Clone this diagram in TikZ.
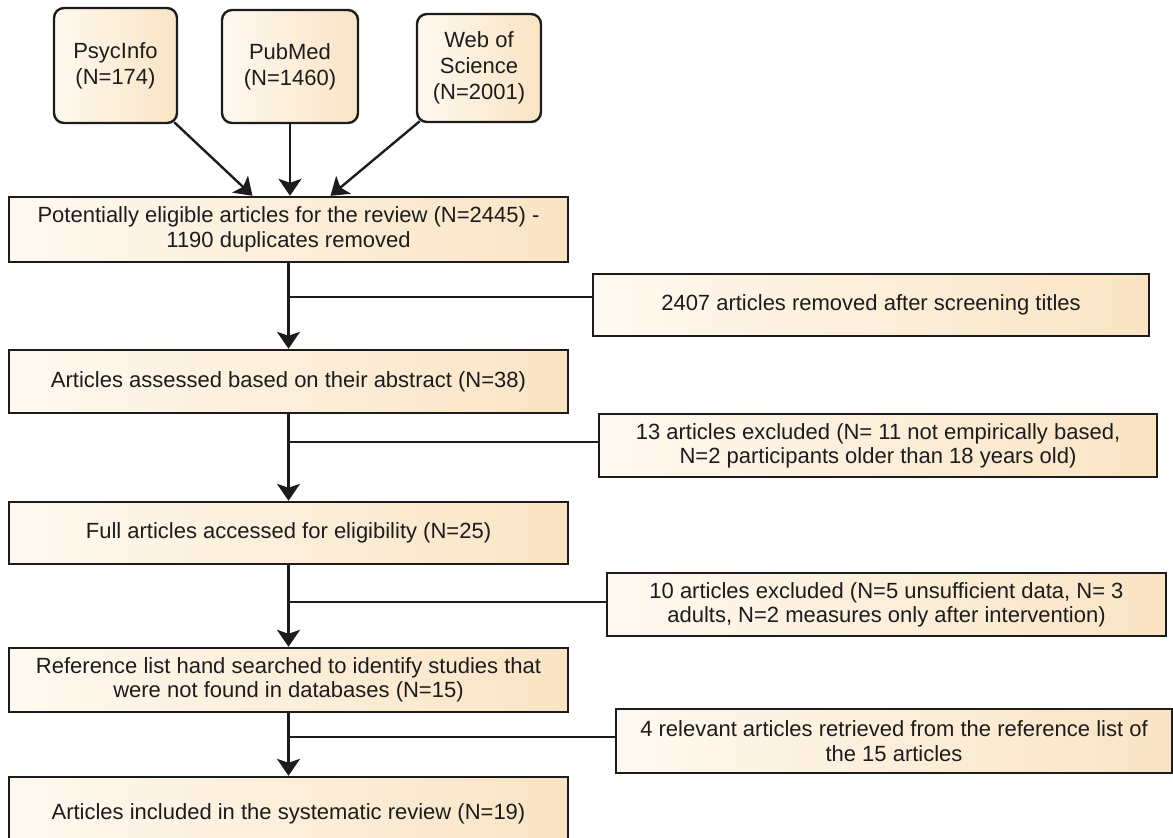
\documentclass[tikz,border=0pt]{standalone}
\usepackage{fontspec}
\setmainfont{Liberation Sans}
\usetikzlibrary{arrows.meta}

\definecolor{boxleft}{RGB}{254,249,240}
\definecolor{boxright}{RGB}{250,228,196}
\definecolor{edge}{RGB}{28,28,28}

\begin{document}
\begin{tikzpicture}[x=0.5pt, y=-0.5pt,
	every node/.style={font=\fontsize{11}{12.2}\selectfont, text=edge},
	box/.style={draw=edge, line width=1.2pt, left color=boxleft, right color=boxright, align=center, inner sep=0pt},
	source/.style={box, rounded corners=5pt, font=\fontsize{11}{13}\selectfont},
	link/.style={draw=edge, line width=1.2pt},
	arrow/.style={link, -{Stealth[length=8.5pt,width=11.5pt,inset=2pt]}}]

	% Page frame
	\clip (0,0) rectangle (1173,837);

	% Draw databases
	\node (psyc) at (115.5,65.5) [source, minimum width=61.5pt, minimum height=57.5pt] {PsycInfo\\(N=174)};
	\node (pubmed) at (290,66.5) [source, minimum width=68pt, minimum height=56.5pt] {PubMed\\(N=1460)};
	\node (wos) at (479,68) [source, minimum width=62pt, minimum height=54pt] {Web of\\Science\\(N=2001)};

	% Main column
	\node (elig) at (288.5,229.5) [box, minimum width=279.5pt, minimum height=32.5pt] {Potentially eligible articles for the review (N=2445) -\\1190 duplicates removed};
	\node (abstract) at (288.5,381.5) [box, minimum width=279.5pt, minimum height=31.5pt] {Articles assessed based on their abstract (N=38)};
	\node (full) at (288.5,533) [box, minimum width=279.5pt, minimum height=31pt] {Full articles accessed for eligibility (N=25)};
	\node (hand) at (288.5,680) [box, minimum width=279.5pt, minimum height=32pt] {Reference list hand searched to identify studies that\\were not found in databases (N=15)};
	\node (incl) at (288.5,813.5) [box, minimum width=279.5pt, minimum height=36.5pt] {Articles included in the systematic review (N=19)};

	% Side boxes
	\node (titles) at (871,305) [box, minimum width=278pt, minimum height=31pt] {2407 articles removed after screening titles};
	\node (excla) at (878,445.5) [box, minimum width=279pt, minimum height=31.5pt] {13 articles excluded (N= 11 not empirically based,\\N=2 participants older than 18 years old)};
	\node (exclb) at (886.5,604.5) [box, minimum width=279.5pt, minimum height=31.5pt] {10 articles excluded (N=5 unsufficient data, N= 3\\adults, N=2 measures only after intervention)};
	\node (found) at (894,741) [box, minimum width=278pt, minimum height=32pt] {4 relevant articles retrieved from the reference list of\\the 15 articles};

	% Arrows into the first box
	\draw[arrow] ([xshift=-2pt,yshift=1pt]psyc.south east) -- ([xshift=-18pt]elig.north);
	\draw[arrow] (pubmed.south) -- (pubmed.south |- elig.north);
	\draw[arrow] ([xshift=2pt,yshift=1pt]wos.south west) -- ([xshift=21pt]elig.north);

	% Main flow
	\draw[arrow] (elig.south) -- (abstract.north);
	\draw[arrow] (abstract.south) -- (full.north);
	\draw[arrow] (full.south) -- (hand.north);
	\draw[arrow] (hand.south) -- (incl.north);

	% Branches to the side boxes
	\coordinate (ja) at (288.5,297);
	\coordinate (jb) at (288.5,442);
	\coordinate (jc) at (288.5,602);
	\coordinate (jd) at (288.5,737);
	\draw[link] (ja) -- (ja -| titles.west);
	\draw[link] (jb) -- (jb -| excla.west);
	\draw[link] (jc) -- (jc -| exclb.west);
	\draw[link] (jd) -- (jd -| found.west);

\end{tikzpicture}
\end{document}
